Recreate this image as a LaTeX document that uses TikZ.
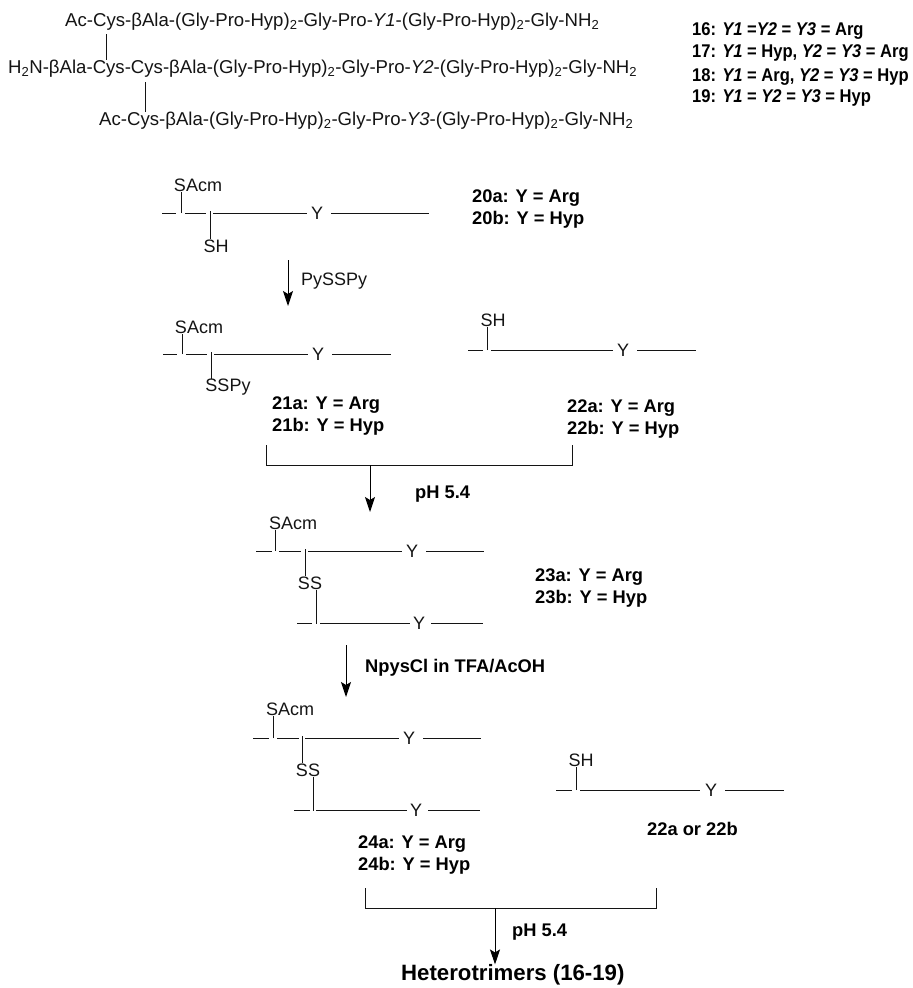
\documentclass[tikz,border=0pt]{standalone}
\usepackage{fontspec}
\setmainfont{Liberation Sans}
\newfontfamily\legfont[FakeStretch=0.9]{Liberation Sans}
\usetikzlibrary{arrows.meta,positioning}
\definecolor{inkgray}{RGB}{20,20,20}

\begin{document}
\begin{tikzpicture}[x=1pt,y=-1pt,
  seq/.style={font=\fontsize{18.6}{20}\selectfont,inner sep=0pt,anchor=west,text=inkgray},
  atom/.style={font=\fontsize{18}{20}\selectfont,inner sep=0pt,text=inkgray},
  lbl/.style={font=\fontsize{18.3}{20}\selectfont\bfseries,inner sep=0pt,anchor=west,text=black},
  leg/.style={font=\legfont\fontsize{18.4}{20}\selectfont\bfseries,inner sep=0pt,anchor=west,text=black},
  bond/.style={draw=inkgray,line width=1pt},
  rxn/.style={draw=black,line width=1pt,-{Stealth[length=15pt,width=10pt,inset=3pt]}}
]
  \useasboundingbox (0,0) rectangle (913,988);

  %% ---- Target sequences (top) ----
  \node[seq] (seqone) at (65,22) {Ac-Cys-βAla-(Gly-Pro-Hyp)\textsubscript{2}-Gly-Pro-\textit{Y1}-(Gly-Pro-Hyp)\textsubscript{2}-Gly-NH\textsubscript{2}};
  \node[seq] (seqtwo) at (8,69) {H\textsubscript{2}N-βAla-Cys-Cys-βAla-(Gly-Pro-Hyp)\textsubscript{2}-Gly-Pro-\textit{Y2}-(Gly-Pro-Hyp)\textsubscript{2}-Gly-NH\textsubscript{2}};
  \node[seq] (seqthree) at (99,121) {Ac-Cys-βAla-(Gly-Pro-Hyp)\textsubscript{2}-Gly-Pro-\textit{Y3}-(Gly-Pro-Hyp)\textsubscript{2}-Gly-NH\textsubscript{2}};
  \coordinate (linkone) at (106,34);
  \coordinate (linktwo) at (145,82);
  \draw[bond] (linkone) -- (linkone |- seqtwo.north);
  \draw[bond] (linktwo) -- (linktwo |- seqthree.north);

  %% ---- Legend (top right) ----
  \node[leg] (legone) at (692,31) {16: \textit{Y1} =\textit{Y2} = \textit{Y3} = Arg};
  \node[leg] (legtwo) at (692,53) {17: \textit{Y1} = Hyp, \textit{Y2} = \textit{Y3} = Arg};
  \node[leg] (legthree) at (692,77) {18: \textit{Y1} = Arg, \textit{Y2} = \textit{Y3} = Hyp};
  \node[leg] (legfour) at (692,98) {19: \textit{Y1} = \textit{Y2} = \textit{Y3} = Hyp};

  %% ---- 20 ----
  \node[atom] (sacmA) at (198,185) {SAcm};
  \node[atom] (shA) at (216,246) {SH};
  \node[atom] (yA) at (317,213) {Y};
  \coordinate (startA) at (162,213);
  \coordinate (tickA) at (181,213);
  \coordinate (branchA) at (210,213);
  \coordinate (endA) at (429,213);
  \draw[bond] (startA) -- ([xshift=-5pt]tickA);
  \draw[bond] (tickA) -- (tickA |- sacmA.south);
  \draw[bond] ([xshift=4pt]tickA) -- ([xshift=-4pt]branchA);
  \draw[bond] ([yshift=2pt]branchA) -- (branchA |- shA.north);
  \draw[bond] ([xshift=3pt]branchA) -- ([xshift=-4pt]yA.west);
  \draw[bond] ([xshift=8pt]yA.east) -- (endA);
  \node[lbl] (nameAa) at (472,198) {20a: Y = Arg};
  \node[lbl] (nameAb) at (472,220) {20b: Y = Hyp};

  % 20 --> 21
  \coordinate (stepAtop) at (288,260);
  \coordinate (stepAend) at (288,306);
  \draw[rxn] (stepAtop) -- (stepAend);
  \node[atom,anchor=west] (reagA) at (301,281) {PySSPy};

  %% ---- 21 ----
  \node[atom] (sacmB) at (199,327) {SAcm};
  \node[atom] (sspyB) at (228,387) {SSPy};
  \node[atom] (yB) at (318,354) {Y};
  \coordinate (startB) at (163,354);
  \coordinate (tickB) at (182,354);
  \coordinate (branchB) at (211,354);
  \coordinate (endB) at (391,354);
  \draw[bond] (startB) -- ([xshift=-5pt]tickB);
  \draw[bond] (tickB) -- (tickB |- sacmB.south);
  \draw[bond] ([xshift=4pt]tickB) -- ([xshift=-4pt]branchB);
  \draw[bond] ([yshift=2pt]branchB) -- (branchB |- sspyB.north);
  \draw[bond] ([xshift=3pt]branchB) -- ([xshift=-4pt]yB.west);
  \draw[bond] ([xshift=8pt]yB.east) -- (endB);
  \node[lbl] (nameBa) at (272,405) {21a: Y = Arg};
  \node[lbl] (nameBb) at (272,427) {21b: Y = Hyp};

  %% ---- 22 ----
  \node[atom] (shC) at (493,320) {SH};
  \node[atom] (yC) at (623,350) {Y};
  \coordinate (startC) at (468,350);
  \coordinate (tickC) at (487,350);
  \coordinate (endC) at (696,350);
  \draw[bond] (startC) -- ([xshift=-4pt]tickC);
  \draw[bond] (tickC) -- (tickC |- shC.south);
  \draw[bond] ([xshift=4pt]tickC) -- ([xshift=-4pt]yC.west);
  \draw[bond] ([xshift=8pt]yC.east) -- (endC);
  \node[lbl] (nameCa) at (567,408) {22a: Y = Arg};
  \node[lbl] (nameCb) at (567,430) {22b: Y = Hyp};

  % 21 + 22 --> 23
  \coordinate (brkBl) at (266,445);
  \coordinate (brkBr) at (572,445);
  \coordinate (brkBm) at (370,465);
  \coordinate (stepBend) at (370,512);
  \draw[bond] (brkBl) -- (brkBl |- brkBm) -- (brkBr |- brkBm) -- (brkBr);
  \draw[rxn] (brkBm) -- (stepBend);
  \node[lbl] (reagB) at (415,494) {pH 5.4};

  %% ---- 23 ----
  \node[atom] (sacmD) at (293,523) {SAcm};
  \node[atom] (ssD) at (310,583) {SS};
  \node[atom] (yD) at (412,551) {Y};
  \node[atom] (ylowD) at (419,623.5) {Y};
  \coordinate (startD) at (256,551);
  \coordinate (tickD) at (275,551);
  \coordinate (branchD) at (305,551);
  \coordinate (endD) at (484,551);
  \coordinate (lowstartD) at (297,623.5);
  \coordinate (lowtickD) at (316,623.5);
  \coordinate (lowendD) at (483,623.5);
  \draw[bond] (startD) -- ([xshift=-3pt]tickD);
  \draw[bond] (tickD) -- (tickD |- sacmD.south);
  \draw[bond] ([xshift=4pt]tickD) -- ([xshift=-4pt]branchD);
  \draw[bond] ([yshift=2pt]branchD) -- (branchD |- ssD.north);
  \draw[bond] ([xshift=3pt]branchD) -- ([xshift=-4pt]yD.west);
  \draw[bond] ([xshift=8pt]yD.east) -- (endD);
  \draw[bond] (lowstartD) -- ([xshift=-4pt]lowtickD);
  \draw[bond] (lowtickD) -- (lowtickD |- ssD.south);
  \draw[bond] ([xshift=4pt]lowtickD) -- ([xshift=-3pt]ylowD.west);
  \draw[bond] ([xshift=6pt]ylowD.east) -- (lowendD);
  \node[lbl] (nameDa) at (535,577) {23a: Y = Arg};
  \node[lbl] (nameDb) at (535,599) {23b: Y = Hyp};

  % 23 --> 24
  \coordinate (stepDtop) at (346,645);
  \coordinate (stepDend) at (346,697);
  \draw[rxn] (stepDtop) -- (stepDend);
  \node[lbl] (reagD) at (365,668) {NpysCl in TFA/AcOH};

  %% ---- 24 ----
  \node[atom] (sacmE) at (290,709) {SAcm};
  \node[atom] (ssE) at (308,770) {SS};
  \node[atom] (yE) at (409,738) {Y};
  \node[atom] (ylowE) at (416,810.5) {Y};
  \coordinate (startE) at (253,738);
  \coordinate (tickE) at (273,738);
  \coordinate (branchE) at (302,738);
  \coordinate (endE) at (481,738);
  \coordinate (lowstartE) at (294,810.5);
  \coordinate (lowtickE) at (313,810.5);
  \coordinate (lowendE) at (480,810.5);
  \draw[bond] (startE) -- ([xshift=-4pt]tickE);
  \draw[bond] (tickE) -- (tickE |- sacmE.south);
  \draw[bond] ([xshift=4pt]tickE) -- ([xshift=-3pt]branchE);
  \draw[bond] ([yshift=2pt]branchE) -- (branchE |- ssE.north);
  \draw[bond] ([xshift=3pt]branchE) -- ([xshift=-4pt]yE.west);
  \draw[bond] ([xshift=8pt]yE.east) -- (endE);
  \draw[bond] (lowstartE) -- ([xshift=-3pt]lowtickE);
  \draw[bond] (lowtickE) -- (lowtickE |- ssE.south);
  \draw[bond] ([xshift=3pt]lowtickE) -- ([xshift=-3pt]ylowE.west);
  \draw[bond] ([xshift=6pt]ylowE.east) -- (lowendE);
  \node[lbl] (nameEa) at (358,844) {24a: Y = Arg};
  \node[lbl] (nameEb) at (358,866) {24b: Y = Hyp};

  %% ---- 22a or 22b (lower right) ----
  \node[atom] (shF) at (581,760) {SH};
  \node[atom] (yF) at (711,790) {Y};
  \coordinate (startF) at (556,790);
  \coordinate (tickF) at (576,790);
  \coordinate (endF) at (784,790);
  \draw[bond] (startF) -- ([xshift=-4pt]tickF);
  \draw[bond] (tickF) -- (tickF |- shF.south);
  \draw[bond] ([xshift=4pt]tickF) -- ([xshift=-5pt]yF.west);
  \draw[bond] ([xshift=8pt]yF.east) -- (endF);
  \node[lbl] (nameF) at (647,829) {22a or 22b};

  % 24 + 22 --> Heterotrimers
  \coordinate (brkEl) at (365,888);
  \coordinate (brkEr) at (656,888);
  \coordinate (brkEm) at (495,908);
  \draw[bond] (brkEl) -- (brkEl |- brkEm) -- (brkEr |- brkEm) -- (brkEr);
  \node[lbl] (reagE) at (512,932) {pH 5.4};
  \node[lbl,font=\fontsize{22.2}{24}\selectfont\bfseries] (product) at (401,975) {Heterotrimers (16-19)};
  \draw[rxn] (brkEm) -- (brkEm |- product.north);
\end{tikzpicture}
\end{document}
